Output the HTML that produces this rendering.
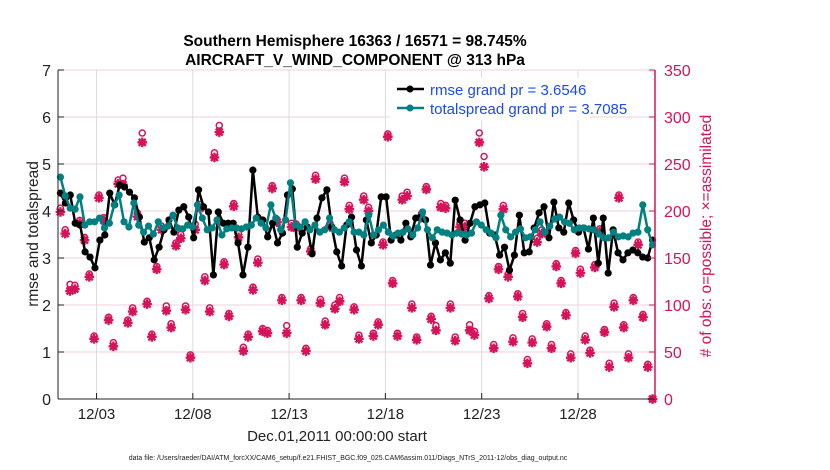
<!DOCTYPE html>
<html><head><meta charset="utf-8">
<style>
html,body{margin:0;padding:0;background:#fff;}
svg{display:block;font-family:"Liberation Sans",Arial,sans-serif;}
</style></head>
<body>
<svg id="chart" width="830" height="470" viewBox="0 0 830 470">
<text x="355" y="46" text-anchor="middle" font-size="15.5" font-weight="bold">Southern Hemisphere 16363 / 16571 = 98.745%</text>
<text x="355" y="65" text-anchor="middle" font-size="15.5" font-weight="bold">AIRCRAFT_V_WIND_COMPONENT @ 313 hPa</text>
<g id="grid"></g>
<g id="obs"></g>
<g id="lines"></g>
<g id="axes"></g>
<g>
<rect x="390" y="78" width="200" height="42" fill="#fff"/>
<line x1="397" y1="89" x2="424" y2="89" stroke="#000" stroke-width="2.5"/><circle cx="410" cy="89" r="3.5" fill="#000"/>
<text x="430" y="95" font-size="15" fill="#1a4cf0">rmse grand pr = 3.6546</text>
<line x1="397" y1="108" x2="424" y2="108" stroke="#008080" stroke-width="2.5"/><circle cx="410" cy="108" r="3.5" fill="#008080"/>
<text x="430" y="114" font-size="15" fill="#1a4cf0">totalspread grand pr = 3.7085</text>
</g>
<text x="337" y="441" text-anchor="middle" font-size="15" fill="#222">Dec.01,2011 00:00:00 start</text>
<text x="348" y="460" text-anchor="middle" font-size="7" fill="#222">data file: /Users/raeder/DAI/ATM_forcXX/CAM6_setup/f.e21.FHIST_BGC.f09_025.CAM6assim.011/Diags_NTrS_2011-12/obs_diag_output.nc</text>
<text transform="translate(38,234) rotate(-90)" text-anchor="middle" font-size="15.5" fill="#222">rmse and totalspread</text>
<text transform="translate(711,236) rotate(-90)" text-anchor="middle" font-size="15.5" fill="#d6135a"># of obs: o=possible; ×=assimilated</text>
</svg>
<script>
const xTickDays = [2,7,12,17,22,27];
const xTickLabels = ["12/03","12/08","12/13","12/18","12/23","12/28"];
const leftTicks = [0,1,2,3,4,5,6,7];
const rightTicks = [0,50,100,150,200,250,300,350];
const rmse = [4.38,4.17,4.34,3.74,3.70,3.13,3.02,2.79,3.38,3.49,4.38,4.13,4.55,4.51,4.40,4.28,3.87,3.34,3.43,2.96,3.23,3.60,3.81,3.55,4.02,4.09,3.87,3.43,4.45,4.09,3.98,2.64,3.98,3.74,3.74,3.74,3.32,2.64,3.23,4.87,3.87,3.81,3.45,3.74,3.32,3.53,4.34,4.47,3.23,3.53,3.66,3.09,3.85,4.28,4.45,3.66,3.13,2.83,3.70,3.87,3.17,2.83,3.81,3.32,3.49,4.30,4.30,3.38,3.49,3.38,3.74,3.45,3.85,3.87,3.81,2.85,3.32,2.96,3.11,2.89,4.23,3.81,3.38,3.74,4.09,4.13,4.17,3.53,3.49,3.06,3.23,2.74,3.06,3.91,3.11,3.13,3.64,3.96,4.09,3.43,4.19,3.64,3.55,4.17,3.81,3.55,3.64,3.19,3.85,2.89,3.85,2.68,3.60,3.11,2.96,3.11,3.17,3.11,3.02,3.00,3.38];
const spread = [4.72,4.32,4.06,4.04,4.30,3.70,3.77,3.77,3.85,3.64,3.74,4.13,4.34,3.77,3.66,4.17,3.70,3.55,3.68,3.51,3.77,3.64,3.68,3.91,3.64,3.62,3.70,3.66,4.13,3.85,3.60,3.64,3.81,3.49,3.62,3.64,3.64,3.62,3.66,3.70,3.85,3.74,3.64,4.13,3.85,3.60,3.81,4.60,3.70,3.66,3.77,3.60,3.70,3.55,3.60,3.85,3.60,3.55,3.64,3.77,3.55,3.55,3.49,3.91,3.49,3.60,3.70,3.55,3.47,3.53,3.55,3.62,3.49,3.64,3.98,3.60,3.43,3.60,3.55,3.53,3.49,3.53,3.51,3.49,3.53,3.77,3.70,3.60,3.53,3.43,3.91,3.60,3.45,3.55,3.62,3.43,3.45,3.60,3.77,3.55,3.68,3.83,3.87,3.77,3.74,3.60,3.64,3.64,3.62,3.60,3.51,3.43,3.43,3.55,3.45,3.47,3.45,3.53,3.55,4.13,3.60,3.28];
const assimilated = [199,176,115,117,187,169,130,64,214,190,84,56,229,228,81,93,194,273,101,66,138,180,94,76,163,171,95,44,180,203,126,93,257,284,143,88,205,172,51,66,116,145,72,70,224,188,105,70,183,182,105,51,157,234,102,79,183,96,104,231,202,95,64,212,200,67,79,164,279,123,67,212,216,97,63,193,223,85,73,204,203,97,62,183,183,73,68,273,247,107,54,138,202,130,61,109,87,38,60,167,176,77,54,141,123,89,44,155,134,63,49,140,178,71,34,98,214,76,44,105,164,87,34,0];
const possible = [203,180,122,121,190,172,133,67,217,193,87,60,233,235,84,97,198,283,104,69,141,184,99,80,166,175,99,47,186,207,130,97,262,291,146,91,208,176,55,69,119,149,75,73,227,191,108,78,187,186,108,54,160,238,106,83,187,100,108,235,206,98,68,216,204,70,82,167,282,126,70,216,220,101,66,197,226,88,78,208,206,101,66,187,187,79,72,283,258,110,58,141,206,133,65,112,91,42,64,171,180,80,58,144,126,92,48,158,138,67,52,143,181,74,38,102,217,79,48,108,167,90,37,0];

const NS='http://www.w3.org/2000/svg';
const X0=58,X1=655,Y0=399,YT=70,DAYS=31;
function xs(t){return X0+(X1-X0)*t/DAYS;}
function yl(v){return Y0-(Y0-YT)*v/7;}
function yr(c){return Y0-(Y0-YT)*c/350;}
function tIdx(i,n){return 0.125+i*(DAYS-0.25)/(n-1);}
function mk(tag,attrs,parent){const e=document.createElementNS(NS,tag);for(const k in attrs)e.setAttribute(k,attrs[k]);parent.appendChild(e);return e;}
const MAG='#d6135a',TEAL='#008080';
const grid=document.getElementById('grid'),axes=document.getElementById('axes'),obs=document.getElementById('obs'),lines=document.getElementById('lines');
xTickDays.forEach((d,i)=>{
  const g=mk('line',{x1:xs(d),x2:xs(d),y1:YT,y2:Y0,stroke:'#dcdcdc','stroke-width':1},grid);
  
  
  const tk=mk('line',{x1:xs(d),x2:xs(d),y1:Y0,y2:Y0-6,stroke:'#222','stroke-width':1},axes);
  
  
  const tx=mk('text',{x:xs(d),y:Y0+20,'text-anchor':'middle','font-size':15,fill:'#222'},axes);
  tx.textContent=xTickLabels[i];
  
  
});
leftTicks.forEach(v=>{
  if(v>0){const g=mk('line',{x1:X0,x2:X1,y1:yl(v),y2:yl(v),stroke:'#f2d0dc','stroke-width':1},grid);
  
  }
  const tk=mk('line',{x1:X0,x2:X0+6,y1:yl(v),y2:yl(v),stroke:'#222'},axes);
  
  
  const tx=mk('text',{x:X0-7,y:yl(v)+6,'text-anchor':'end','font-size':16,fill:'#222'},axes);
  tx.textContent=v;
  
  
});
rightTicks.forEach(c=>{
  const tk=mk('line',{x1:X1,x2:X1-6,y1:yr(c),y2:yr(c),stroke:MAG},axes);
  
  
  const tx=mk('text',{x:X1+9,y:yr(c)+6,'font-size':16,fill:MAG},axes);
  tx.textContent=c;
  
  
});
const la=mk('line',{x1:X0,x2:X0,y1:YT,y2:Y0,stroke:'#222','stroke-width':1},axes);


const ba=mk('line',{x1:X0,x2:X1,y1:Y0,y2:Y0,stroke:'#222','stroke-width':1},axes);


const ra=mk('line',{x1:X1,x2:X1,y1:YT,y2:Y0,stroke:MAG,'stroke-width':1.5},axes);



possible.forEach((c,i)=>{
  const x=xs(tIdx(i,possible.length)),y=yr(c);
  const e=mk('circle',{cx:x,cy:y,r:3,fill:'#fff',stroke:MAG,'stroke-width':1.5},obs);
  
  
});
assimilated.forEach((c,i)=>{
  const x=xs(tIdx(i,assimilated.length)),y=yr(c);
  const p=mk('path',{d:`M${x-4.8},${y}H${x+4.8}M${x},${y-4.8}V${y+4.8}M${x-3.5},${y-3.5}L${x+3.5},${y+3.5}M${x-3.5},${y+3.5}L${x+3.5},${y-3.5}`,stroke:MAG,'stroke-width':2.4},obs);
  
  
  const d=mk('circle',{cx:x,cy:y,r:2.8,fill:MAG},obs);
  
  
});
function series(vals,color,name){
  const pts=vals.map((v,i)=>[xs(tIdx(i,vals.length)),yl(v)]);
  const pl=mk('polyline',{points:pts.map(p=>p.join(',')).join(' '),fill:'none',stroke:color,'stroke-width':2.5,'stroke-linejoin':'round'},lines);
  
  
  pts.forEach(p=>{
    const c=mk('circle',{cx:p[0],cy:p[1],r:3.6,fill:color},lines);
    
    
  });
}
series(rmse,'#000','rmse');
series(spread,TEAL,'totalspread');
</script>
</body></html>
